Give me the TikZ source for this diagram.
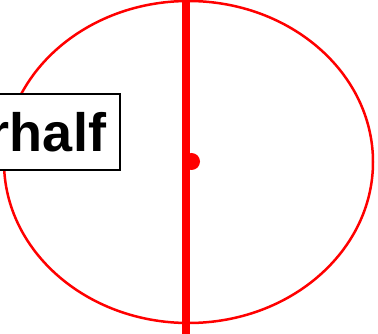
\documentclass[tikz,border=0pt]{standalone}
\usepackage{fontspec}
\setmainfont{Liberation Sans}
\usepackage{xcolor}
\definecolor{rimred}{HTML}{FF0000}
\usetikzlibrary{positioning}
\tikzset{
  halfbox/.style={draw=black,fill=white,line width=2pt,
                  font=\fontsize{54}{60}\selectfont\bfseries,
                  minimum height=76pt,inner xsep=14pt,inner ysep=0pt},
  rim/.style    ={draw=rimred,line width=2.5pt},
  axis/.style   ={draw=rimred,line width=8.5pt},
  pivot/.style  ={circle,fill=rimred,inner sep=0pt,minimum size=17pt},
}

\begin{document}
\begin{tikzpicture}[x=1pt,y=-1pt]
\useasboundingbox (0,0) rectangle (378,334);
% outline and middle axis
\draw[rim] (188.5,162) ellipse [x radius=184.5,y radius=161];
\coordinate (top) at (186,-5);
\coordinate (bot) at (186,340);
\draw[axis] (top) -- (bot);
\node[pivot] (mid) at (191.5,161.5) {};
% cut-off label on the left
\node[halfbox,anchor=east] (half) at (121,132) {rhalf};
\end{tikzpicture}
\end{document}
